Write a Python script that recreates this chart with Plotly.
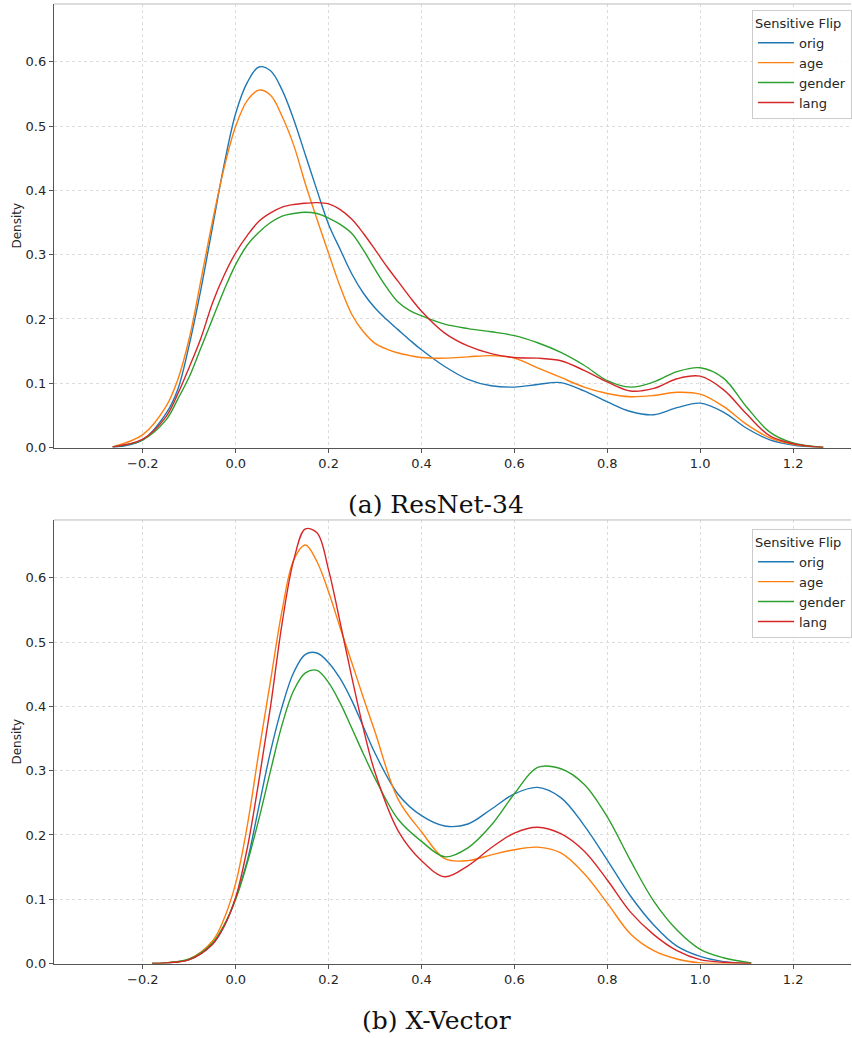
import plotly.graph_objects as go

# ---------------- data ----------------
series_names = ["orig", "age", "gender", "lang"]
colors = ["#1f77b4", "#ff7f0e", "#2ca02c", "#d62728"]

# (a) ResNet-34
x_resnet = [-0.265, -0.2, -0.15, -0.125, -0.1, -0.075, -0.05, -0.025, 0.0, 0.025, 0.05, 0.075,
            0.1, 0.125, 0.15, 0.175, 0.2, 0.225, 0.25, 0.275, 0.3, 0.325, 0.35, 0.375,
            0.4, 0.45, 0.5, 0.55, 0.6, 0.65, 0.7, 0.75, 0.8, 0.85, 0.9, 0.95, 1.0, 1.05,
            1.1, 1.15, 1.2, 1.265]
resnet_orig = [0.0, 0.012, 0.053, 0.09, 0.16, 0.246, 0.343, 0.44, 0.52, 0.568, 0.592, 0.586,
               0.556, 0.51, 0.455, 0.40, 0.347, 0.308, 0.27, 0.24, 0.217, 0.199, 0.183, 0.167,
               0.152, 0.126, 0.106, 0.096, 0.094, 0.098, 0.101, 0.088, 0.071, 0.056,
               0.051, 0.062, 0.069, 0.055, 0.03, 0.012, 0.004, 0.0]
resnet_age = [0.001, 0.02, 0.064, 0.105, 0.17, 0.26, 0.352, 0.435, 0.5, 0.54, 0.556, 0.548,
              0.515, 0.47, 0.41, 0.355, 0.302, 0.25, 0.207, 0.18, 0.162, 0.153, 0.147, 0.143,
              0.14, 0.139, 0.141, 0.143, 0.139, 0.124, 0.109, 0.094, 0.084, 0.079,
              0.081, 0.086, 0.083, 0.064, 0.036, 0.015, 0.005, 0.0]
resnet_gender = [0.001, 0.012, 0.043, 0.075, 0.11, 0.155, 0.2, 0.245, 0.285, 0.315, 0.335, 0.35,
                 0.36, 0.364, 0.366, 0.364, 0.357, 0.347, 0.333, 0.307, 0.277, 0.249, 0.226, 0.213,
                 0.205, 0.192, 0.185, 0.18, 0.174, 0.163, 0.148, 0.128, 0.104,
                 0.094, 0.102, 0.118, 0.124, 0.108, 0.063, 0.024, 0.007, 0.0]
resnet_lang = [0.001, 0.013, 0.048, 0.083, 0.125, 0.17, 0.225, 0.268, 0.303, 0.33, 0.352, 0.365,
               0.374, 0.378, 0.38, 0.381, 0.379, 0.37, 0.355, 0.333, 0.308, 0.282, 0.258, 0.234,
               0.212, 0.178, 0.158, 0.146, 0.14, 0.139, 0.135, 0.12, 0.102,
               0.088, 0.092, 0.107, 0.111, 0.09, 0.052, 0.018, 0.006, 0.0]

# (b) X-Vector
x_xvector = [-0.18, -0.15, -0.1, -0.05, -0.025, 0.0, 0.025, 0.05, 0.075, 0.1, 0.125, 0.15,
             0.175, 0.2, 0.225, 0.25, 0.275, 0.3, 0.35, 0.4, 0.45, 0.5, 0.55, 0.6, 0.65,
             0.7, 0.75, 0.8, 0.85, 0.9, 0.95, 1.0, 1.05, 1.11]
xvec_orig = [0.0, 0.001, 0.006, 0.03, 0.058, 0.102, 0.16, 0.245, 0.33, 0.4, 0.453, 0.481,
             0.483, 0.468, 0.443, 0.409, 0.368, 0.327, 0.263, 0.23, 0.214, 0.217, 0.24, 0.264,
             0.274, 0.258, 0.215, 0.161, 0.105, 0.06, 0.027, 0.011, 0.003, 0.0]
xvec_age = [0.0, 0.001, 0.007, 0.035, 0.07, 0.125, 0.215, 0.33, 0.44, 0.55, 0.628, 0.651,
            0.625, 0.578, 0.522, 0.468, 0.413, 0.36, 0.255, 0.205, 0.163, 0.16, 0.169, 0.177,
            0.181, 0.172, 0.14, 0.094, 0.046, 0.02, 0.007, 0.001, 0.0, 0.0]
xvec_gender = [0.0, 0.001, 0.007, 0.032, 0.06, 0.1, 0.157, 0.225, 0.3, 0.372, 0.425, 0.452,
               0.456, 0.437, 0.405, 0.366, 0.326, 0.288, 0.224, 0.19, 0.166, 0.18, 0.215, 0.264,
               0.305, 0.303, 0.279, 0.228, 0.16, 0.097, 0.052, 0.022, 0.009, 0.001]
xvec_lang = [0.0, 0.001, 0.006, 0.03, 0.058, 0.103, 0.18, 0.285, 0.4, 0.53, 0.628, 0.676,
             0.67, 0.612, 0.53, 0.445, 0.365, 0.297, 0.206, 0.16, 0.135, 0.152, 0.18, 0.203,
             0.212, 0.202, 0.175, 0.13, 0.08, 0.045, 0.02, 0.006, 0.002, 0.0]

x_ticks = [-0.2, 0.0, 0.2, 0.4, 0.6, 0.8, 1.0, 1.2]
y_ticks = [0.0, 0.1, 0.2, 0.3, 0.4, 0.5, 0.6]
captions = ["(a) ResNet-34", "(b) X-Vector"]
legend_title = "Sensitive Flip"
y_title = "Density"

# ---------------- figure ----------------
W, H = 852, 1038
fig = go.Figure()

panels = [
    (x_resnet, [resnet_orig, resnet_age, resnet_gender, resnet_lang], "x", "y", "legend"),
    (x_xvector, [xvec_orig, xvec_age, xvec_gender, xvec_lang], "x2", "y2", "legend2"),
]
for xs, ys_list, xa, ya, lg in panels:
    for name, col, ys in zip(series_names, colors, ys_list):
        fig.add_trace(go.Scatter(
            x=xs, y=ys, mode="lines", name=name, xaxis=xa, yaxis=ya, legend=lg,
            line=dict(color=col, width=1.4, shape="spline", smoothing=1.0),
            hoverinfo="skip"))

x_left, x_right = 54, 852
xr = [(x_left - 236) / 465.0, (x_right - 236) / 465.0]
top_dom = [1 - 451 / H, 1 - 4 / H]
bot_dom = [1 - 971 / H, 1 - 524 / H]
yr = [0, 0.69]

font = dict(family="DejaVu Sans", size=13, color="#262626")
grid = dict(showgrid=True, gridcolor="#dcdcdc", gridwidth=1, griddash="dot")

def xaxis(anchor):
    return dict(domain=[x_left / W, 1.0], range=xr, anchor=anchor, tickvals=x_ticks,
                tickformat=".1f", ticks="outside", ticklen=4, tickcolor="#555",
                showline=True, linecolor="#555", linewidth=1.2, zeroline=False,
                tickfont=font, **grid)

def yaxis(anchor, dom):
    return dict(domain=dom, range=yr, anchor=anchor, tickvals=y_ticks, tickformat=".1f",
                ticks="outside", ticklen=4, tickcolor="#555", showline=True,
                linecolor="#555", linewidth=1.2, zeroline=False, tickfont=font,
                title=dict(text=y_title, font=dict(family="DejaVu Sans", size=12, color="#262626"),
                           standoff=1), **grid)

legend_common = dict(
    xanchor="left", yanchor="top", x=753 / W, bgcolor="rgba(255,255,255,0.85)",
    bordercolor="#cccccc", borderwidth=1, font=dict(family="DejaVu Sans", size=13, color="#262626"),
    title=dict(text=legend_title, font=dict(family="DejaVu Sans", size=13, color="#262626")),
    itemwidth=36, tracegroupgap=0, entrywidth=110, entrywidthmode="pixels")

fig.update_layout(
    width=W, height=H, margin=dict(l=0, r=0, t=0, b=0),
    paper_bgcolor="white", plot_bgcolor="white", showlegend=True,
    xaxis=xaxis("y"), yaxis=yaxis("x", top_dom),
    xaxis2=xaxis("y2"), yaxis2=yaxis("x2", bot_dom),
    legend=dict(y=1 - 10 / H, **legend_common),
    legend2=dict(y=1 - 533 / H, **legend_common),
)

# light top spines
for dom in (top_dom, bot_dom):
    fig.add_shape(type="line", xref="paper", yref="paper", x0=x_left / W, x1=1.0,
                  y0=dom[1], y1=dom[1], line=dict(color="#bbbbbb", width=1))

# captions
for txt, yc in zip(captions, [508, 1028]):
    fig.add_annotation(text=txt, xref="paper", yref="paper", x=437 / W, y=1 - yc / H,
                       showarrow=False, xanchor="center", yanchor="middle",
                       font=dict(family="DejaVu Serif", size=25, color="#111111"))

post = (
    "document.documentElement.style.margin='0px';"
    "document.body.style.margin='0px';document.body.style.overflow='hidden';"
)
fig.write_html("out.html", config={"displayModeBar": False}, post_script=post)
